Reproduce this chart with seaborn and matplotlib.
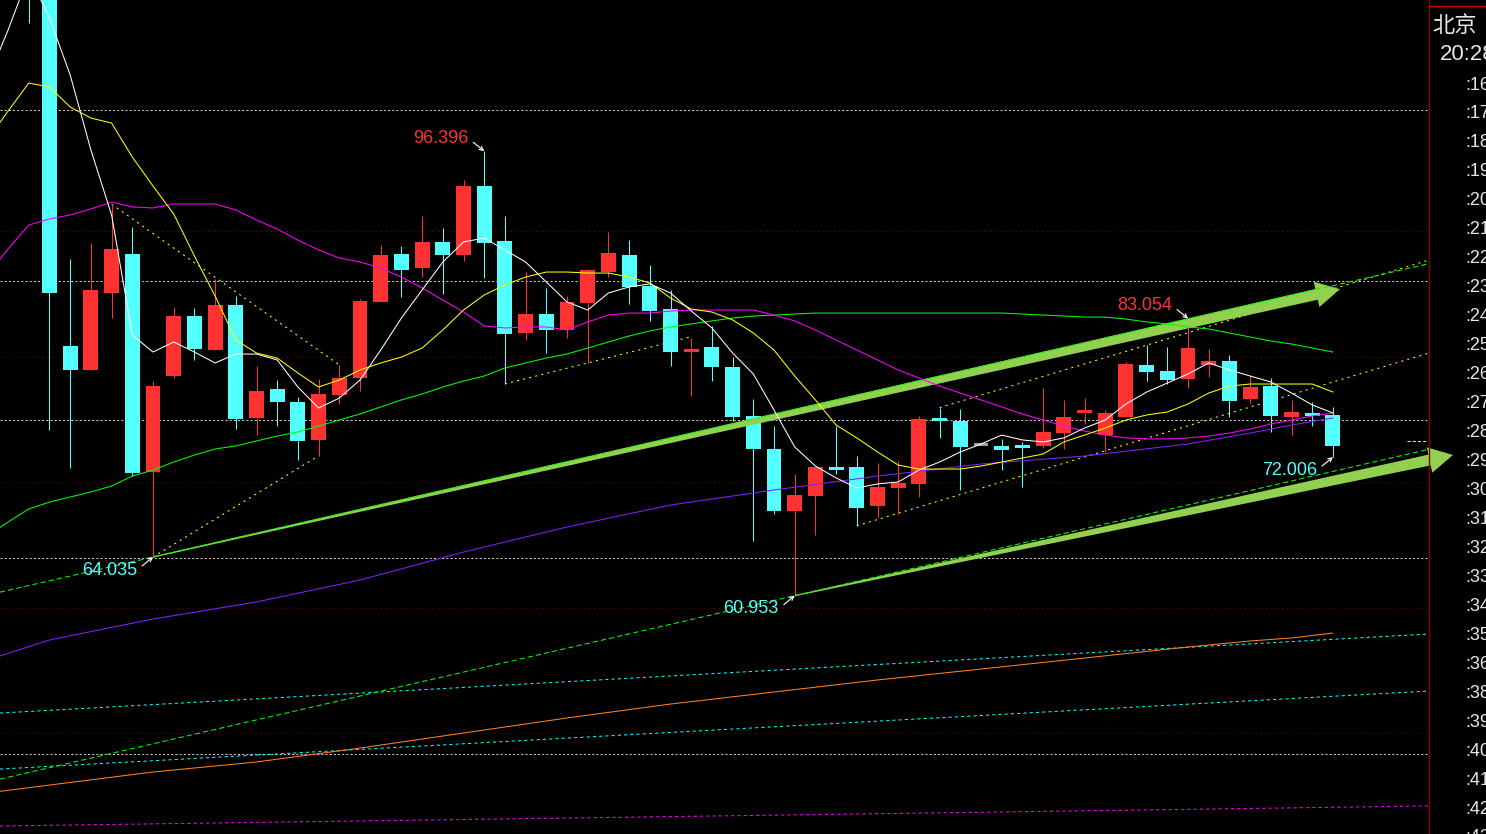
"""Dark trading-terminal style candlestick chart with moving averages,
trend lines and two channel arrows.
"""
import numpy as np
import matplotlib
matplotlib.use('Agg')
import seaborn as sns
from matplotlib import pyplot as plt
from matplotlib.patches import Polygon
from matplotlib.lines import Line2D

W, H, DPI = 1486, 834, 100
AX_RIGHT = 1429  # pixel where the price panel ends

# ---- candles (bar index -1 .. 62) ----
bar_idx = list(range(-1, 63))
opens = [113.12, 110.50, 80.87, 78.95, 85.09, 88.19, 70.83, 78.48, 83.25, 80.55,
         84.13, 75.13, 77.44, 76.41, 73.38, 76.96, 78.32, 84.37, 88.19, 87.08,
         89.15, 88.11, 93.61, 89.23, 81.90, 83.41, 82.14, 84.29, 86.76, 88.11,
         85.64, 83.81, 80.39, 80.79, 79.19, 75.29, 72.66, 67.72, 68.92, 71.15,
         71.23, 68.12, 69.56, 69.88, 75.13, 74.89, 72.90, 72.90, 72.98, 72.90,
         73.94, 75.53, 73.78, 75.21, 79.35, 78.87, 78.24, 79.35, 79.67, 76.65,
         77.68, 75.21, 75.53, 75.37]
highs = [114.70, 112.00, 87.79, 89.07, 92.17, 90.34, 78.08, 83.97, 83.89, 86.20,
         84.85, 79.27, 78.16, 76.80, 78.24, 79.35, 84.61, 88.91, 88.83, 91.22,
         90.26, 94.09, 96.396, 91.22, 86.76, 85.49, 84.85, 86.99, 89.94, 89.31,
         87.32, 85.33, 81.50, 82.46, 79.99, 76.65, 74.49, 70.67, 71.23, 74.49,
         72.10, 71.55, 71.71, 75.29, 75.95, 75.85, 72.90, 73.46, 73.22, 77.52,
         76.57, 76.72, 75.77, 79.59, 80.94, 80.79, 83.054, 80.63, 80.15, 78.48,
         78.32, 76.57, 76.43, 76.03]
lows = [106.59, 74.18, 71.15, 78.95, 83.09, 70.51, 64.035, 78.32, 79.75, 80.55,
        74.26, 73.78, 74.49, 71.79, 72.10, 76.25, 77.28, 84.37, 84.77, 86.36,
        85.01, 87.64, 86.28, 77.84, 81.34, 80.31, 81.50, 79.51, 86.36, 84.21,
        82.86, 79.27, 76.88, 78.08, 74.89, 65.34, 67.49, 60.953, 65.81, 70.67,
        66.53, 67.25, 67.49, 68.84, 73.54, 69.40, 72.90, 70.99, 69.64, 72.74,
        72.66, 74.65, 72.42, 75.21, 78.08, 77.84, 77.52, 78.40, 75.21, 76.33,
        74.02, 73.78, 74.49, 72.006]
closes = [109.94, 85.09, 78.95, 85.32, 88.59, 70.75, 77.68, 83.25, 80.63, 84.13,
          75.05, 77.28, 76.41, 73.30, 77.04, 78.32, 84.45, 88.11, 86.92, 89.15,
          88.11, 93.61, 89.07, 81.82, 83.41, 82.14, 84.37, 86.92, 88.27, 85.56,
          83.65, 80.39, 80.55, 79.19, 75.21, 72.66, 67.72, 68.99, 71.23, 70.99,
          67.96, 69.64, 69.96, 75.05, 74.89, 72.82, 72.90, 72.58, 72.74, 74.02,
          75.21, 75.77, 75.53, 79.43, 78.79, 78.16, 80.71, 79.67, 76.49, 77.60,
          75.29, 75.61, 75.29, 72.90]

# ---- moving averages (index -3 .. 62) ----
ma_idx = list(range(-3, 63))
ma5 = [102.07, 106.06, 110.45, 107.02, 102.47, 96.49, 91.31, 81.74, 80.38, 81.18,
       80.38, 79.51, 80.22, 80.22, 79.75, 77.59, 75.92, 76.71, 78.15, 80.54,
       83.09, 85.33, 87.56, 89.16, 89.47, 88.52, 87.56, 85.97, 84.37, 83.73,
       85.09, 85.57, 85.81, 85.09, 83.65, 82.30, 80.30, 78.63, 75.76, 72.81,
       71.29, 70.34, 69.54, 69.86, 70.02, 70.97, 71.61, 72.41, 73.05, 73.76,
       73.37, 73.21, 73.53, 74.32, 74.96, 76.24, 77.19, 77.91, 78.63, 79.51,
       78.95, 78.47, 77.99, 77.11, 76.16, 75.52]
ma10 = [97.29, 99.60, 101.83, 101.52, 99.92, 99.04, 98.64, 95.93, 93.62, 91.39,
        88.04, 84.85, 81.34, 80.30, 79.90, 78.71, 77.59, 78.15, 78.95, 79.51,
        79.98, 80.70, 82.14, 83.73, 84.93, 85.73, 86.36, 86.76, 86.76, 86.68,
        86.68, 86.36, 85.89, 84.69, 83.81, 83.57, 82.94, 81.90, 80.54, 78.47,
        76.56, 74.56, 73.53, 72.41, 71.37, 71.05, 71.05, 71.05, 71.29, 71.61,
        71.93, 72.25, 73.21, 73.76, 74.32, 74.96, 75.36, 75.60, 76.24, 77.11,
        77.67, 77.83, 77.83, 77.83, 77.83, 77.19]
ma20 = [86.52, 88.60, 90.51, 90.99, 91.31, 91.79, 92.34, 91.95, 91.87, 92.19,
        92.19, 92.19, 91.71, 90.91, 90.19, 89.31, 88.52, 87.88, 87.56, 87.08,
        86.36, 85.49, 84.53, 83.57, 82.46, 82.30, 82.38, 82.38, 82.14, 82.78,
        83.33, 83.49, 83.49, 83.65, 83.73, 83.73, 83.73, 83.73, 83.33, 82.86,
        82.14, 81.34, 80.54, 79.75, 78.95, 78.31, 77.67, 77.11, 76.56, 76.00,
        75.44, 74.96, 74.48, 74.08, 73.76, 73.53, 73.45, 73.45, 73.53, 73.68,
        73.92, 74.24, 74.64, 74.96, 75.28, 75.52]
ma60 = [65.71, 66.83, 67.86, 68.42, 68.82, 69.22, 69.70, 70.49, 70.97, 71.61,
        72.17, 72.65, 72.89, 73.29, 73.68, 74.00, 74.48, 74.96, 75.44, 76.00,
        76.56, 77.03, 77.59, 78.07, 78.47, 79.11, 79.51, 79.90, 80.22, 80.70,
        81.18, 81.66, 82.06, 82.38, 82.62, 82.86, 83.09, 83.25, 83.33, 83.41,
        83.49, 83.49, 83.49, 83.49, 83.49, 83.49, 83.49, 83.49, 83.49, 83.49,
        83.41, 83.33, 83.25, 83.17, 83.17, 83.01, 82.78, 82.62, 82.38, 82.22,
        81.90, 81.58, 81.26, 81.02, 80.70, 80.38]

# slow averages, sampled
slow_idx = [-3, 0, 5, 10, 15, 20, 25, 30, 35, 40, 45, 50, 55, 58, 60, 62]
ma_purple = [55.82, 57.42, 59.09, 60.45, 62.20, 64.43, 66.43, 68.18, 69.38,
             70.49, 71.45, 72.09, 73.05, 73.92, 74.56, 75.12]
ma_orange = [45.22, 45.85, 46.89, 47.69, 48.80, 50.00, 51.20, 52.31, 53.27,
             54.23, 55.10, 55.98, 56.86, 57.34, 57.58, 57.97]

# horizontal levels
level_red = [100, 90, 80, 70, 60, 50]
level_white = [99.68, 86.05, 74.96, 63.96, 48.33]
last_marker = 73.29

# trend lines, (index, price) anchors
green_upper = [(5, 64.035), (62, 85.67)]
green_lower = [(36, 60.953), (62, 70.86)]
cyan_upper = [(0, 51.81), (60, 57.29)]
cyan_lower = [(0, 47.34), (60, 52.75)]
magenta_base = [(0, 42.64), (60, 44.03)]
yellow_segments = [
    [(3, 92.17), (14, 79.35)],
    [(5, 64.035), (13, 72.10)],
    [(22, 77.84), (31, 81.60)],
    [(39, 66.53), (66.64, 80.30)],
    [(43, 75.95), (66.64, 87.72)],
]
big_arrows = [((5, 64.035), (62.34, 85.40)),
              ((36, 60.953), (67.80, 72.17))]

# marked extremes: index, value, kind
marks = [(21, 96.396, 'high'), (5, 64.035, 'low'), (36, 60.953, 'low'),
         (55, 83.054, 'high'), (62, 72.006, 'low')]

axis_labels = [':16', ':17', ':18', ':19', ':20', ':21', ':22', ':23', ':24',
               ':25', ':26', ':27', ':28', ':29', ':30', ':31', ':32', ':33',
               ':34', ':35', ':36', ':38', ':39', ':40', ':41', ':42', ':43']

UP, DOWN, FLAT = '#FF3232', '#54FFFF', '#A0A0A0'
ARROW_GREEN = '#92D050'
LW = 0.75

sns.set_theme(style='dark', rc={'axes.facecolor': 'black',
                                'figure.facecolor': 'black'})
plt.rcParams['font.family'] = ['Liberation Sans', 'Noto Sans CJK SC', 'DejaVu Sans']

fig = plt.figure(figsize=(W / DPI, H / DPI), dpi=DPI)
ax = fig.add_axes([0, 0, AX_RIGHT / W, 1])
ax.set_xlim(-2.391, 66.64)
ax.set_ylim(41.947, 108.453)
ax.set_axis_off()

# grid levels
for v in level_red:
    ax.axhline(v, color='#8B0000', lw=LW, ls=(0, (1, 4)), zorder=1)
for v in level_white:
    ax.axhline(v, color='#C8C8C8', lw=LW, ls=(0, (2, 2)), zorder=1)
ax.plot([65.58, 66.6], [last_marker] * 2, color='#E0E0E0', lw=LW,
        ls=(0, (3, 2)), zorder=1)

# long straight guides
for pts, col, dash in [(cyan_upper, '#00FFFF', (3, 3)),
                       (cyan_lower, '#00FFFF', (3, 3)),
                       (magenta_base, '#FF00FF', (3, 3)),
                       (green_upper, '#00FF00', (5, 3)),
                       (green_lower, '#00FF00', (5, 3))]:
    zo = 3.5 if col == '#00FF00' else 1.5
    ax.axline(pts[0], pts[1], color=col, lw=LW, ls=(0, dash), zorder=zo)

for seg in yellow_segments:
    xs, ys = zip(*seg)
    ax.plot(xs, ys, color='#FFFF00', lw=LW, ls=(0, (2, 4)), zorder=1.6)

# candles
o, h, l, c = map(np.array, (opens, highs, lows, closes))
colors = np.where(c > o, UP, np.where(c < o, DOWN, FLAT))
ax.vlines(bar_idx, l, h, colors=colors, lw=LW, zorder=2)
body_low = np.minimum(o, c)
body_h = np.maximum(np.abs(c - o), 0.22)
ax.bar(bar_idx, body_h, bottom=body_low, width=0.72, color=colors,
       linewidth=0, zorder=2.1)


# tapered arrows
def draw_arrow(tail, tip, color):
    tr = ax.transData
    t = tr.transform(tail)
    p = tr.transform(tip)
    u = (p - t) / np.hypot(*(p - t))
    n = np.array([-u[1], u[0]])
    b = p - u * 24
    pts = [t + n * 0.6, b + n * 5.5, b + n * 13, p,
           b - n * 13, b - n * 5.5, t - n * 0.6]
    pts = tr.inverted().transform(np.array(pts))
    ax.add_patch(Polygon(pts, closed=True, fc=color, ec='none',
                         clip_on=False, zorder=3))


for tail, tip in big_arrows:
    draw_arrow(tail, tip, ARROW_GREEN)

# moving averages
for xs, ys, col in [(slow_idx, ma_orange, '#FF7F27'),
                    (slow_idx, ma_purple, '#8020FF'),
                    (ma_idx, ma60, '#00FF00'),
                    (ma_idx, ma20, '#FF00FF'),
                    (ma_idx, ma10, '#FFFF00'),
                    (ma_idx, ma5, '#FFFFFF')]:
    sns.lineplot(x=xs, y=ys, color=col, linewidth=LW, ax=ax, estimator=None,
                 sort=False, legend=False, zorder=4)

# extreme labels
for i, v, kind in marks:
    s = 1 if kind == 'high' else -1
    col = UP if kind == 'high' else DOWN
    ax.annotate('', xy=(i, v), xytext=(-11, s * 9), textcoords='offset pixels',
                arrowprops=dict(arrowstyle='->', color='white', lw=0.8,
                                shrinkA=0, shrinkB=0, mutation_scale=7),
                zorder=5)
    ax.annotate(f'{v:.3f}', xy=(i, v), xytext=(-16, s * 13),
                textcoords='offset pixels', ha='right', va='center',
                color=col, fontsize=13, zorder=5)

# right-hand panel
fig.add_artist(Line2D([AX_RIGHT / W] * 2, [0, 1], color='#8B0000', lw=1.0))
fig.add_artist(Line2D([AX_RIGHT / W, 1], [1 - 6 / H] * 2, color='#CC0000', lw=1.0))
fig.text(1432 / W, 1 - 26 / H, '北京', color='#E6E6E6', fontsize=16,
         va='center', ha='left', family=['Noto Sans CJK SC', 'DejaVu Sans'])
fig.text(1440 / W, 1 - 55 / H, '20:28', color='#E6E6E6', fontsize=16,
         va='center', ha='left')
for k, lab in enumerate(axis_labels):
    fig.text(1465 / W, 1 - (85 + 28.96 * k) / H, lab, color='#E6E6E6',
             fontsize=13, va='center', ha='left')

fig.savefig('out.png', dpi=DPI, facecolor='black')
